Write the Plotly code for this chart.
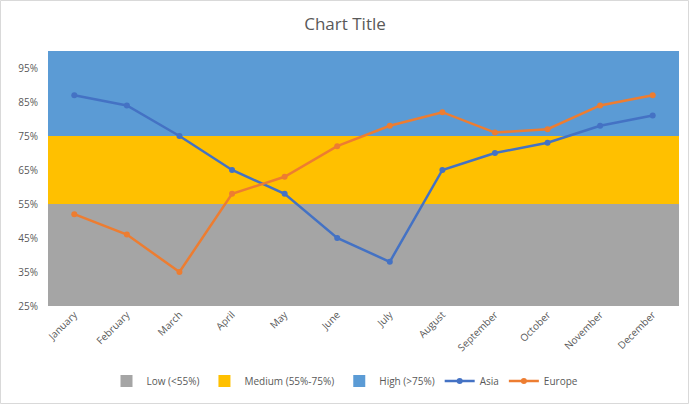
import plotly.graph_objects as go

months = ["January", "February", "March", "April", "May", "June", "July",
          "August", "September", "October", "November", "December"]
asia = [87, 84, 75, 65, 58, 45, 38, 65, 70, 73, 78, 81]
europe = [52, 46, 35, 58, 63, 72, 78, 82, 76, 77, 84, 87]
low_band = [55] * 12
medium_band = [20] * 12
high_band = [25] * 12
y_ticks = [25, 35, 45, 55, 65, 75, 85, 95]
y_tick_labels = [f"{v}%" for v in y_ticks]

FONT = "Open Sans, Liberation Sans, sans-serif"
TXT = "#595959"

fig = go.Figure()
fig.add_trace(go.Bar(x=months, y=low_band, name="Low (<55%)", marker=dict(color="#A5A5A5", line=dict(width=0))))
fig.add_trace(go.Bar(x=months, y=medium_band, name="Medium (55%-75%)", marker=dict(color="#FFC000", line=dict(width=0))))
fig.add_trace(go.Bar(x=months, y=high_band, name="High (>75%)", marker=dict(color="#5B9BD5", line=dict(width=0))))
fig.add_trace(go.Scatter(x=months, y=asia, name="Asia", mode="lines+markers",
                         line=dict(color="#4472C4", width=2.5), marker=dict(size=6, color="#4472C4")))
fig.add_trace(go.Scatter(x=months, y=europe, name="Europe", mode="lines+markers",
                         line=dict(color="#ED7D31", width=2.5), marker=dict(size=6, color="#ED7D31")))

W, H = 690, 405
ml, mr, mt, mb = 48, 11, 51, 99
pw, ph = W - ml - mr, H - mt - mb

def px_x(px):
    return (px - ml) / pw

def px_y(py):
    return (H - mb - py) / ph

fig.add_shape(type="rect", xref="paper", yref="paper",
              x0=px_x(0.5), x1=px_x(W - 1.5), y0=px_y(H - 1.5), y1=px_y(0.5),
              line=dict(color="#D9D9D9", width=1), fillcolor="rgba(0,0,0,0)", layer="below")

fig.update_layout(
    width=W, height=H,
    margin=dict(l=ml, r=mr, t=mt, b=mb, autoexpand=False),
    barmode="stack", bargap=0,
    paper_bgcolor="white", plot_bgcolor="white",
    font=dict(family=FONT, color=TXT, size=10),
    title=dict(text="Chart Title", x=0.5, xref="container", xanchor="center",
               y=1 - 24 / H, yref="container", yanchor="middle",
               font=dict(size=17, color=TXT, family=FONT)),
    showlegend=True,
    legend=dict(orientation="h", x=0.5, xanchor="center", xref="container",
                y=1 - 381 / H, yanchor="middle", yref="container",
                font=dict(size=10, color=TXT), traceorder="normal"),
    xaxis=dict(type="category", range=[-0.5, len(months) - 0.5], tickangle=-45,
               showgrid=False, showline=False,
               ticks="", tickfont=dict(size=10, color=TXT), automargin=False),
    yaxis=dict(range=[25, 100], tickvals=y_ticks, ticktext=y_tick_labels,
               showgrid=False, zeroline=False, showline=False, ticks="",
               ticklabelstandoff=9,
               tickfont=dict(size=10, color=TXT), automargin=False),
)

fig.write_html("out.html", config={"displayModeBar": False},
               post_script="document.body.style.margin='0';document.body.style.overflow='hidden';")
